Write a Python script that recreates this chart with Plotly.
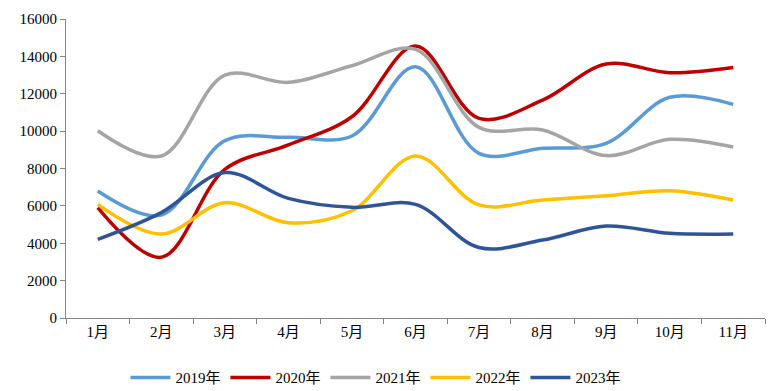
import plotly.graph_objects as go

months = ["1月", "2月", "3月", "4月", "5月", "6月", "7月", "8月", "9月", "10月", "11月"]
s2019 = [6800, 5510, 9490, 9670, 9740, 13450, 8810, 9080, 9350, 11810, 11430]
s2020 = [5900, 3250, 7950, 9260, 10770, 14550, 10680, 11660, 13590, 13130, 13410]
s2021 = [10020, 8670, 13000, 12610, 13500, 14370, 10200, 10060, 8690, 9560, 9150]
s2022 = [6080, 4490, 6170, 5100, 5740, 8670, 6050, 6310, 6540, 6810, 6310]
s2023 = [4210, 5640, 7780, 6400, 5920, 6080, 3770, 4170, 4920, 4530, 4490]

series = [
    ("2019年", s2019, "#5B9BD5"),
    ("2020年", s2020, "#C00000"),
    ("2021年", s2021, "#A5A5A5"),
    ("2022年", s2022, "#FFC000"),
    ("2023年", s2023, "#2F5597"),
]

fig = go.Figure()
for name, vals, color in series:
    fig.add_trace(go.Scatter(
        x=months, y=vals, name=name, mode="lines",
        line=dict(color=color, width=3.5, shape="spline", smoothing=1.0),
    ))

font = dict(family="Liberation Serif, Noto Sans CJK SC, serif", size=15, color="#000000")
fig.update_layout(
    width=768, height=383,
    margin=dict(l=58, r=11, t=11, b=73, autoexpand=False),
    paper_bgcolor="white", plot_bgcolor="white",
    font=font,
    showlegend=True,
    legend=dict(orientation="h", x=0.085, xanchor="left", y=-0.145, yanchor="top",
                font=font, itemwidth=40, entrywidth=45, tracegroupgap=0),
    xaxis=dict(type="category", range=[-0.5, 10.5], showgrid=False, showline=True,
               linecolor="#868686", linewidth=1, ticks="outside", ticklen=5,
               tickcolor="#868686", tickson="boundaries", tickfont=font, zeroline=False,
               automargin=False),
    yaxis=dict(range=[0, 16000], dtick=2000, tickformat="d", showgrid=False, showline=True,
               linecolor="#868686", linewidth=1, ticks="outside", ticklen=5,
               tickcolor="#868686", tickfont=font, zeroline=False, automargin=False),
)

fig.write_html("out.html")
